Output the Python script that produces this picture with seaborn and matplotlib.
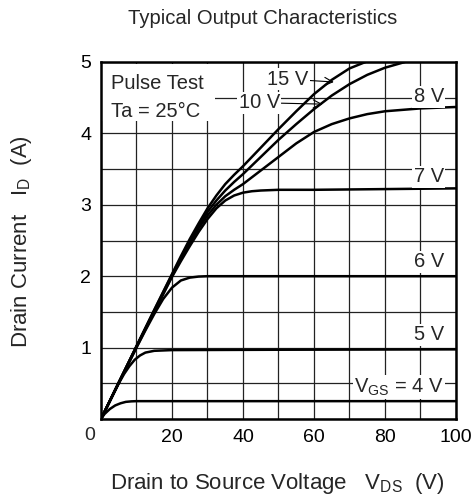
import matplotlib
matplotlib.use("Agg")
import matplotlib.pyplot as plt
from matplotlib.patches import Rectangle
import seaborn as sns
import pandas as pd

# ---- data ----
vgs_labels = ["15 V", "10 V", "8 V", "7 V", "6 V", "5 V", "4 V"]

x_15 = [0, 5, 10, 15, 20, 22.5, 25, 27.5, 30, 32.5, 35, 37.5, 40, 45, 50, 55, 60, 65, 70, 74.5]
i_15 = [0, 0.51, 1.02, 1.53, 2.03, 2.28, 2.52, 2.74, 2.95, 3.13, 3.29, 3.42, 3.54, 3.8, 4.06, 4.31, 4.55, 4.75, 4.91, 5.0]

x_10 = [0, 5, 10, 15, 20, 22.5, 25, 27.5, 30, 32.5, 35, 37.5, 40, 45, 50, 55, 60, 65, 70, 75, 80, 85.6]
i_10 = [0, 0.51, 1.02, 1.52, 2.02, 2.26, 2.49, 2.7, 2.9, 3.06, 3.2, 3.32, 3.43, 3.67, 3.91, 4.13, 4.34, 4.53, 4.69, 4.82, 4.92, 5.0]

x_8 = [0, 5, 10, 15, 20, 22.5, 25, 27.5, 30, 32.5, 35, 37.5, 40, 45, 50, 55, 60, 65, 70, 75, 80, 85, 90, 95, 100]
i_8 = [0, 0.51, 1.01, 1.51, 2.0, 2.24, 2.46, 2.67, 2.85, 3.0, 3.12, 3.21, 3.29, 3.48, 3.67, 3.86, 4.02, 4.13, 4.21, 4.27, 4.31, 4.33, 4.35, 4.36, 4.37]

x_7 = [0, 5, 10, 15, 20, 22.5, 25, 27.5, 30, 32.5, 35, 37.5, 40, 42.5, 45, 50, 60, 80, 100]
i_7 = [0, 0.51, 1.01, 1.5, 1.99, 2.21, 2.42, 2.62, 2.8, 2.95, 3.06, 3.13, 3.17, 3.19, 3.2, 3.21, 3.21, 3.22, 3.23]

x_6 = [0, 5, 10, 12.5, 15, 17.5, 20, 22.5, 25, 27.5, 30, 50, 100]
i_6 = [0, 0.5, 1.0, 1.24, 1.47, 1.68, 1.84, 1.94, 1.98, 1.995, 2.0, 2.0, 2.0]

x_5 = [0, 2.5, 5, 6.5, 8, 9.5, 11, 12.5, 15, 20, 50, 100]
i_5 = [0, 0.25, 0.5, 0.63, 0.74, 0.83, 0.89, 0.93, 0.955, 0.965, 0.97, 0.975]

x_4 = [0, 1, 2.5, 4, 5.5, 7, 8.5, 10, 50, 100]
i_4 = [0, 0.07, 0.14, 0.19, 0.22, 0.24, 0.247, 0.25, 0.25, 0.25]

x_ticks = [0, 10, 20, 30, 40, 50, 60, 70, 80, 90, 100]
x_ticklabels = ["", "", "20", "", "40", "", "60", "", "80", "", "100"]
y_ticks = [0, 0.5, 1, 1.5, 2, 2.5, 3, 3.5, 4, 4.5, 5]
y_ticklabels = ["", "", "1", "", "2", "", "3", "", "4", "", "5"]

frames = []
for lab, xs, ys in zip(vgs_labels,
                       [x_15, x_10, x_8, x_7, x_6, x_5, x_4],
                       [i_15, i_10, i_8, i_7, i_6, i_5, i_4]):
    frames.append(pd.DataFrame({"vds": xs, "id": ys, "vgs": lab}))
df = pd.concat(frames, ignore_index=True)

# ---- style ----
sns.set_style("white")
plt.rcParams["font.family"] = ["Liberation Sans", "DejaVu Sans"]
plt.rcParams["mathtext.fontset"] = "custom"
plt.rcParams["mathtext.rm"] = "Liberation Sans"
plt.rcParams["mathtext.it"] = "Liberation Sans:italic"
plt.rcParams["mathtext.bf"] = "Liberation Sans:bold"

FS_TICK = 14
FS_ANN = 14.5
FS_TITLE = 14.6
FS_LAB = 16

fig = plt.figure(figsize=(4.77, 5.03), dpi=100)
ax = fig.add_axes([101 / 477, 1 - 419 / 503, 355 / 477, 357 / 503])

sns.lineplot(data=df, x="vds", y="id", hue="vgs", units="vgs",
             estimator=None, sort=False, legend=False,
             palette={k: "black" for k in vgs_labels},
             linewidth=1.8, ax=ax, zorder=3)

ax.set_xlim(0, 100)
ax.set_ylim(0, 5)
ax.set_xticks(x_ticks)
ax.set_xticklabels(x_ticklabels)
ax.set_yticks(y_ticks)
ax.set_yticklabels(y_ticklabels)
ax.tick_params(axis="both", length=0, labelsize=FS_TICK, colors="black")
ax.tick_params(axis="x", pad=7)
ax.tick_params(axis="y", pad=7)
ax.grid(True, color="#222222", linewidth=0.9, zorder=1)
ax.set_axisbelow(True)
for s in ax.spines.values():
    s.set_visible(True)
    s.set_color("black")
    s.set_linewidth(1.8)
    s.set_zorder(5)
ax.set_xlabel("")
ax.set_ylabel("")

ax.text(-0.031, -0.045, "0", transform=ax.transAxes, ha="center", va="center",
        fontsize=FS_TICK)

# annotations
wb = dict(facecolor="white", edgecolor="none", pad=1.0)
ax.add_patch(Rectangle((0.3, 4.17), 31.7, 0.8, facecolor="white", edgecolor="none",
                       zorder=2))
ax.text(2.9, 4.70, "Pulse Test", ha="left", va="center", fontsize=FS_ANN, zorder=4)
ax.text(2.9, 4.30, "Ta = 25°C", ha="left", va="center", fontsize=FS_ANN, zorder=4)
ax.annotate("15 V", xy=(65.6, 4.72), xytext=(58.4, 4.76), ha="right", va="center",
            fontsize=FS_ANN, zorder=4, bbox=wb,
            arrowprops=dict(arrowstyle="->", color="black", lw=0.8,
                            shrinkA=0, shrinkB=0))
ax.annotate("10 V", xy=(62.4, 4.41), xytext=(50.4, 4.43), ha="right", va="center",
            fontsize=FS_ANN, zorder=4, bbox=wb,
            arrowprops=dict(arrowstyle="->", color="black", lw=0.8,
                            shrinkA=0, shrinkB=0))
for lab, yy in [("8 V", 4.51), ("7 V", 3.39), ("6 V", 2.2), ("5 V", 1.18)]:
    ax.text(96.6, yy, lab, ha="right", va="center", fontsize=FS_ANN, zorder=4, bbox=wb)
ax.text(96.6, 0.45, r"V$_{\mathrm{GS}}$ = 4 V", ha="right", va="center",
        fontsize=FS_ANN, zorder=4, bbox=wb)

fig.text(263 / 477, 1 - 18 / 503, "Typical Output Characteristics",
         ha="center", va="center", fontsize=FS_TITLE)
fig.text(277.5 / 477, 1 - 484 / 503, r"Drain to Source Voltage   V$_{\mathrm{DS}}$  (V)",
         ha="center", va="center", fontsize=FS_LAB)
fig.text(22 / 477, 1 - 242 / 503, r"Drain Current   I$_{\mathrm{D}}$  (A)",
         ha="center", va="center", fontsize=FS_LAB, rotation=90)

fig.savefig("out.png", dpi=100)
